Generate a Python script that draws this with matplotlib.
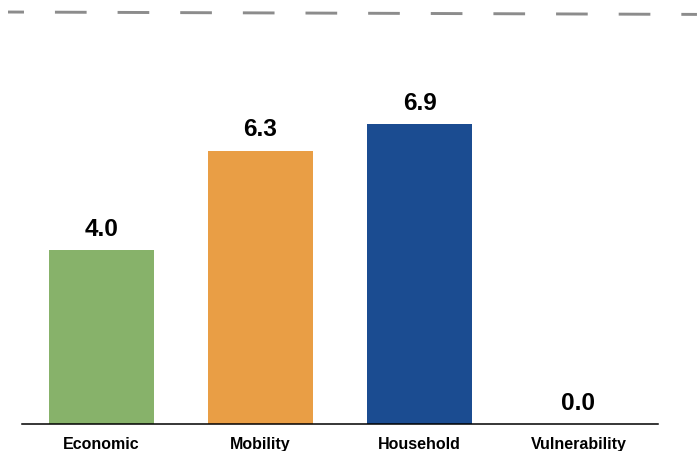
import matplotlib
matplotlib.use("Agg")
import matplotlib.pyplot as plt

categories = ["Economic", "Mobility", "Household", "Vulnerability"]
values = [4.0, 6.3, 6.9, 0.0]
colors = ["#87B26A", "#E99E45", "#1B4C91", "#FFFFFF"]
ref_x = [-0.588, 3.745]
ref_y = [9.49, 9.435]

plt.rcParams['font.family'] = ['Liberation Sans', 'DejaVu Sans']
plt.rcParams['lines.scale_dashes'] = False

fig = plt.figure(figsize=(6.97, 4.52), dpi=100)
ax = fig.add_axes([22/697, 27/452, 636/697, 425/452])

x = range(len(categories))
ax.bar(x, values, width=0.665, color=colors, edgecolor="none", zorder=2)
for xi, v in zip(x, values):
    ax.text(xi, v + 0.24, f"{v:.1f}", ha="center", va="bottom",
            fontsize=17.6, fontweight="bold", color="black")

ax.plot(ref_x, ref_y, color="#8C8C8C", linewidth=2.1,
        linestyle=(11.3, (22.8, 22.3)), clip_on=False,
        dash_capstyle="butt", solid_capstyle="butt")

ax.set_xlim(-0.5, 3.5)
ax.set_ylim(0, 9.79)
ax.set_xticks(list(x))
ax.set_xticklabels(categories, fontsize=11.5, fontweight="bold")
ax.tick_params(axis="x", length=0, pad=8.6)
ax.set_yticks([])
for s in ["top", "right", "left"]:
    ax.spines[s].set_visible(False)
ax.spines["bottom"].set_linewidth(1.1)
ax.spines["bottom"].set_color("black")

fig.savefig("out.png", dpi=100)
